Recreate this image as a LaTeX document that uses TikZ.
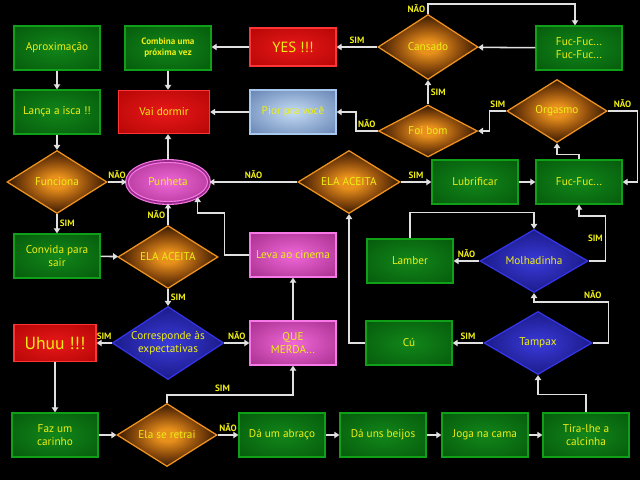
\documentclass[tikz,border=0pt]{standalone}
\usepackage{fontspec}
\setmainfont{PT Sans}
\usepackage{tikz}
\usetikzlibrary{arrows.meta}
\usetikzlibrary{shapes.geometric}
\usepackage{xcolor}

\definecolor{txtyellow}{HTML}{EEEE14}
\definecolor{grnin}{HTML}{12861A}
\definecolor{grnout}{HTML}{04560A}
\definecolor{grnborder}{HTML}{10A018}
\definecolor{redin}{HTML}{E81818}
\definecolor{redout}{HTML}{B00404}
\definecolor{redborder}{HTML}{FF3434}
\definecolor{pinkin}{HTML}{F068D8}
\definecolor{pinkout}{HTML}{A8308F}
\definecolor{pinkborder}{HTML}{F878E8}
\definecolor{pinkdark}{HTML}{9A2A88}
\definecolor{gryin}{HTML}{C4DCF4}
\definecolor{gryout}{HTML}{5A78AC}
\definecolor{gryborder}{HTML}{A8C8EC}
\definecolor{orgin}{HTML}{E8901C}
\definecolor{orgmid}{HTML}{8A4A0C}
\definecolor{orgout}{HTML}{241000}
\definecolor{orgborder}{HTML}{F0921E}
\definecolor{bluin}{HTML}{3A3ADC}
\definecolor{bluout}{HTML}{181880}
\definecolor{bluborder}{HTML}{3434E8}

\pgfdeclareradialshading{orangeglow}{\pgfpoint{0bp}{0bp}}{color(0bp)=(orgin); color(5bp)=(orgin); color(16bp)=(orgmid); color(27bp)=(orgout); color(50bp)=(orgout)}
\pgfdeclareradialshading{blueglow}{\pgfpoint{0bp}{0bp}}{color(0bp)=(bluin); color(28bp)=(bluout); color(50bp)=(bluout)}
\pgfdeclareradialshading{greenglow}{\pgfpoint{0bp}{0bp}}{color(0bp)=(grnin); color(40bp)=(grnout); color(50bp)=(grnout)}
\pgfdeclareradialshading{redglow}{\pgfpoint{0bp}{0bp}}{color(0bp)=(redin); color(40bp)=(redout); color(50bp)=(redout)}
\pgfdeclareradialshading{pinkglow}{\pgfpoint{0bp}{0bp}}{color(0bp)=(pinkin); color(35bp)=(pinkout); color(50bp)=(pinkout)}
\pgfdeclareradialshading{greyglow}{\pgfpoint{0bp}{0bp}}{color(0bp)=(gryin); color(40bp)=(gryout); color(50bp)=(gryout)}

\begin{document}
\begin{tikzpicture}[x=0.025cm,y=-0.025cm,>={Triangle[width=4.5pt,length=3.5pt]},
		conn/.style={->,draw=black!12,line width=1.1pt},
		yn/.style={text=txtyellow,font=\bfseries\fontsize{6.5}{7}\selectfont,inner sep=1.5pt},
		card/.style={rectangle,line width=1pt,minimum width=2.15cm,minimum height=1.1cm,inner sep=1pt,align=center,text=txtyellow,font=\fontsize{8}{9.5}\selectfont},
		greenbox/.style={card,draw=grnborder,shading=greenglow},
		redbox/.style={card,draw=redborder,shading=redglow},
		pinkbox/.style={card,draw=pinkborder,shading=pinkglow},
		greybox/.style={card,draw=gryborder,shading=greyglow},
		decision/.style={diamond,aspect=1.6,line width=0.9pt,inner sep=0pt,minimum width=2.5cm,minimum height=1.575cm,align=center,text=txtyellow,font=\fontsize{8}{9.5}\selectfont},
		orangedec/.style={decision,draw=orgborder,shading=orangeglow},
		bluedec/.style={decision,draw=bluborder,shading=blueglow,minimum width=2.7cm},
	]
		
		%--- Background ---
		\fill[black] (0,0) rectangle (640,480);
		
		%--- Left column ---
		\node[greenbox] (aprox) at (57,48) {Aproximação};
		\node[greenbox] (isca) at (57,112) {Lança a isca !!};
		\node[orangedec] (funciona) at (57,182) {Funciona};
		\node[greenbox] (convida) at (57,256) {Convida para\\sair};
		\node[redbox,minimum width=2.05cm,minimum height=0.925cm,font=\fontsize{12.5}{15}\selectfont] (uhuu) at (55,343) {Uhuu !!!};
		\node[greenbox] (carinho) at (55,435) {Faz um\\carinho};
		
		%--- Second column ---
		\node[greenbox,font=\bfseries\fontsize{6.5}{8}\selectfont] (combina) at (168,48) {Combina uma\\próxima vez};
		\node[redbox,minimum width=2.275cm,minimum height=1.075cm] (dormir) at (164,112) {Vai dormir};
		\node[ellipse,draw=pinkborder,line width=0.8pt,double=pinkdark,double distance=1.2pt,shading=pinkglow,inner sep=0pt,minimum width=2.05cm,minimum height=1.05cm,text=txtyellow,font=\fontsize{8}{9.5}\selectfont] (punheta) at (168,182) {Punheta};
		\node[orangedec] (aceita1) at (168,257) {ELA ACEITA};
		\node[bluedec,minimum width=2.675cm,minimum height=1.825cm] (corresp) at (168,343) {Corresponde às\\expectativas};
		\node[orangedec] (retrai) at (167,435) {Ela se retrai};
		
		%--- Third column ---
		\node[redbox,minimum height=0.95cm,font=\fontsize{10.5}{13}\selectfont] (yes) at (293,47) {YES !!!};
		\node[greybox] (pior) at (293,112) {Pior pra você};
		\node[pinkbox] (cinema) at (293,255) {Leva ao cinema};
		\node[pinkbox] (merda) at (293,343) {QUE\\MERDA...};
		\node[greenbox] (abraco) at (282,435) {Dá um abraço};
		
		%--- Middle ---
		\node[orangedec,minimum height=1.625cm] (cansado) at (428,47) {Cansado};
		\node[orangedec,minimum width=2.475cm,minimum height=1.3cm] (foibom) at (428,131) {Foi bom};
		\node[orangedec,minimum width=2.55cm] (aceita2) at (349,182) {ELA ACEITA};
		\node[greenbox] (lamber) at (410,261) {Lamber};
		\node[greenbox] (cu) at (409,343) {Cú};
		\node[greenbox] (beijos) at (383,435) {Dá uns beijos};
		
		%--- Right side ---
		\node[greenbox] (fucfuc) at (579,48) {Fuc-Fuc...\\Fuc-Fuc...};
		\node[orangedec] (orgasmo) at (557,111) {Orgasmo};
		\node[greenbox] (lubrificar) at (475,182) {Lubrificar};
		\node[greenbox] (fuc) at (579,182) {Fuc-Fuc...};
		\node[bluedec] (molhadinha) at (534,261) {Molhadinha};
		\node[bluedec] (tampax) at (538,343) {Tampax};
		\node[greenbox] (cama) at (485,435) {Joga na cama};
		\node[greenbox] (calcinha) at (586,435) {Tira-lhe a\\calcinha};
		
		%--- Left path ---
		\draw[conn] (aprox) -- (isca);
		\draw[conn] (isca) -- (funciona);
		\draw[conn] (funciona) -- node[yn,above]{NÃO} (punheta);
		\draw[conn] (funciona) -- node[yn,right]{SIM} (convida);
		\draw[conn] (convida) -- (aceita1);
		\draw[conn] (aceita1) -- node[yn,left]{NÃO} (punheta);
		\draw[conn] (aceita1) -- node[yn,right]{SIM} (corresp);
		\draw[conn] (corresp) -- node[yn,above]{SIM} (uhuu);
		\draw[conn] (corresp) -- node[yn,above]{NÃO} (merda);
		\draw[conn] (uhuu) -- (carinho);
		\draw[conn] (carinho) -- (retrai);
		\draw[conn] (retrai) -- node[yn,above]{NÃO} (abraco);
		\draw[conn] (retrai.north) -- ++(0,-8) -| node[yn,pos=0.22,above]{SIM} (merda.south);
		\draw[conn] (merda) -- (cinema);
		\draw[conn] (cinema.west) -- ++(-25,0) -- ++(0,-42) -| (punheta.-27);
		\draw[conn] (punheta.north) -- (punheta.north |- dormir.south);
		
		%--- Bottom row ---
		\draw[conn] (abraco) -- (beijos);
		\draw[conn] (beijos) -- (cama);
		\draw[conn] (cama) -- (calcinha);
		\draw[conn] (calcinha.north) -- ++(0,-18) -| (tampax.south);
		\draw[conn] (tampax) -- node[yn,above]{SIM} (cu);
		\draw[conn] (tampax.east) -- ++(16,0) -- ++(0,-41) node[yn,above left,xshift=-3pt]{NÃO} -| (molhadinha.south);
		\draw[conn] (cu.west) -| (aceita2.south);
		\draw[conn] (molhadinha) -- node[yn,above]{NÃO} (lamber);
		\draw[conn] (lamber.north) -- ++(0,-26) -| (molhadinha.north);
		\draw[conn] (molhadinha.east) -- ++(17,0) -- node[yn,left]{SIM} ++(0,-45) -| (fuc.south);
		
		%--- Upper right ---
		\draw[conn] (aceita2) -- node[yn,above]{NÃO} (punheta);
		\draw[conn] (aceita2) -- node[yn,above]{SIM} (lubrificar);
		\draw[conn] (lubrificar) -- (fuc);
		\draw[conn] (fuc.north) -- ++(0,-5) -| (orgasmo.south);
		\draw[conn] (orgasmo.west) -- node[yn,above]{SIM} ++(-17,0) |- (foibom.east);
		\draw[conn] (orgasmo.east) -- node[yn,above]{NÃO} ++(30,0) |- (fuc.east);
		\draw[conn] (foibom) -- node[yn,right]{SIM} (cansado);
		\draw[conn] (foibom.west) -- node[yn,above]{NÃO} ++(-22,0) |- (pior.east);
		\draw[conn] (pior) -- (dormir);
		\draw[conn] (cansado) -- node[yn,above]{SIM} (yes);
		\draw[conn] (cansado.north) -- node[yn,left]{NÃO} ++(0,-10) -| ([xshift=-0.1cm]fucfuc.north);
		\draw[conn] (fucfuc) -- (cansado);
		\draw[conn] (yes.west) -- (yes.west -| combina.east);
		\draw[conn] (combina.south) -- (combina.south |- dormir.north);
		
	\end{tikzpicture}
\end{document}
